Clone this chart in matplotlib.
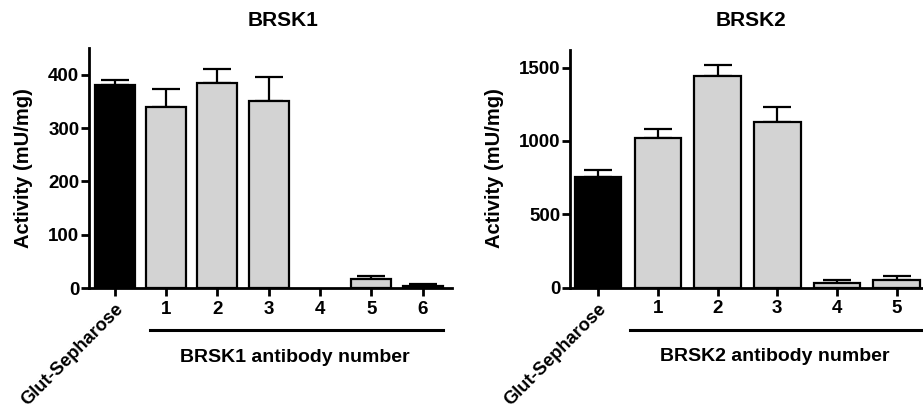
import matplotlib
matplotlib.use("Agg")
import matplotlib.pyplot as plt
import matplotlib.transforms as mtransforms

plt.rcParams['font.family'] = ['Liberation Sans', 'DejaVu Sans']
plt.rcParams['font.weight'] = 'bold'

# Data
labels1 = ["Glut-Sepharose", "1", "2", "3", "4", "5", "6"]
values1 = [380, 339, 385, 350, 0, 16, 4]
errors1 = [10, 34, 25, 46, 0, 6, 3]
colors1 = ["black", "#d3d3d3", "#d3d3d3", "#d3d3d3", "#d3d3d3", "#d3d3d3", "#d3d3d3"]

labels2 = ["Glut-Sepharose", "1", "2", "3", "4", "5"]
values2 = [757, 1019, 1446, 1132, 34, 52]
errors2 = [46, 61, 75, 98, 18, 28]
colors2 = ["black", "#d3d3d3", "#d3d3d3", "#d3d3d3", "#d3d3d3", "#d3d3d3"]

titles = ["BRSK1", "BRSK2"]
ylabel = "Activity (mU/mg)"
xgroup = ["BRSK1 antibody number", "BRSK2 antibody number"]
yticks1 = [0, 100, 200, 300, 400]
yticks2 = [0, 500, 1000, 1500]

fig = plt.figure(figsize=(9.23, 4.11), dpi=100)
ax1 = fig.add_axes([89/923, 1-288/411, (452-89)/923, 240/411])
ax2 = fig.add_axes([570/923, 1-287.7/411, (923-570)/923, 237.7/411])

def draw(ax, labels, values, errors, colors, yticks, ylim, xlim, title, group, line_x, group_x, title_x, ylab_x):
    x = list(range(len(values)))
    edges = ["black" if v > 0 else "none" for v in values]
    ax.bar(x, values, width=0.78, color=colors, edgecolor=edges, linewidth=1.6, zorder=2)
    ex = [xi for xi, e in zip(x, errors) if e > 0]
    ev = [v for v, e in zip(values, errors) if e > 0]
    ee = [e for e in errors if e > 0]
    ax.errorbar(ex, ev, yerr=[[0] * len(ee), ee], fmt="none", ecolor="black",
                elinewidth=1.6, capsize=10, capthick=1.6, zorder=1)
    ax.set_xlim(*xlim)
    ax.set_ylim(*ylim)
    ax.set_yticks(yticks)
    ax.set_xticks(x)
    ax.set_xticklabels(labels)
    for sp in ["top", "right"]:
        ax.spines[sp].set_visible(False)
    for sp in ["left", "bottom"]:
        ax.spines[sp].set_linewidth(2.0)
    ax.tick_params(axis="both", width=2.0, length=6, labelsize=13.5, pad=1)
    ax.tick_params(axis="x", pad=3)
    for t in ax.get_yticklabels() + ax.get_xticklabels():
        t.set_fontweight("bold")
    first = ax.get_xticklabels()[0]
    first.set_rotation(45)
    first.set_ha("right")
    first.set_va("top")
    first.set_rotation_mode("anchor")
    first.set_fontsize(13.2)
    trans = mtransforms.blended_transform_factory(ax.transData, ax.transAxes)
    ax.plot(line_x, [-0.176, -0.176], color="black", linewidth=2.2, transform=trans, clip_on=False)
    ax.text(group_x, -0.29, group, transform=trans, ha="center", va="center",
            fontsize=14, fontweight="bold")
    fig.text(title_x, 1-20/411, title, ha="center", va="center", fontsize=15, fontweight="bold")
    fig.text(ylab_x, 1-168/411, ylabel, ha="center", va="center", rotation=90,
             fontsize=14.5, fontweight="bold")

draw(ax1, labels1, values1, errors1, colors1, yticks1, (0, 450), (-0.5, 6.57),
     titles[0], xgroup[0], [0.69, 6.4], 3.51, 283/923, 24/923)
draw(ax2, labels2, values2, errors2, colors2, yticks2, (0, 1620), (-0.47, 5.44),
     titles[1], xgroup[1], [0.535, 5.41], 2.95, 751/923, 495/923)

fig.savefig("out.png", dpi=100)
